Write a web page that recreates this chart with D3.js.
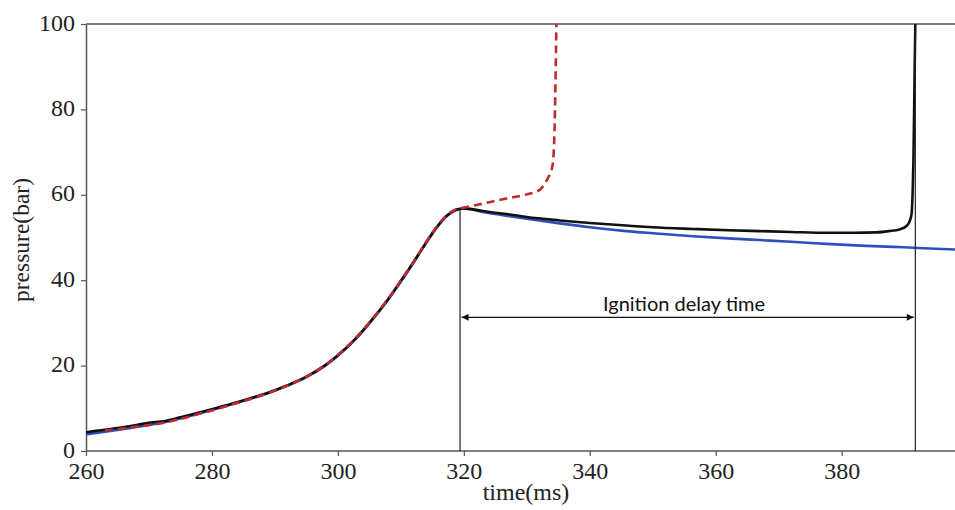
<!DOCTYPE html>
<html><head><meta charset="utf-8">
<script src="https://cdn.jsdelivr.net/npm/d3@7"></script>
<style>html,body{margin:0;padding:0;background:#fff;overflow:hidden}
.serif text, text.serif{font-family:'Liberation Serif','Times New Roman',serif}</style>
</head><body>
<svg id="chart" width="955" height="510"></svg>
<script>
// ---- data ----
const blackTime = [260,262,265,268,270,271,272,275,278,280,283,286,289,292,295,298,300,303,305,308,310,312,313,314,315,316,317,318,319,320,321,323,325,327.3,330,335.2,340,345.8,350,356.4,362,367,372,377.6,382,385.5,387.5,389.2,390.3,390.8,391.1,391.3,391.4,391.6,391.7];
const blackP    = [4.4,4.8,5.4,6.1,6.6,6.8,6.9,7.9,9.0,9.8,11.0,12.3,13.7,15.4,17.4,20.1,22.4,26.6,30.0,35.6,39.8,44.2,46.5,48.8,51.0,53.0,54.7,55.9,56.6,56.8,56.7,56.2,55.8,55.4,54.8,54.0,53.4,52.8,52.4,52.0,51.7,51.5,51.3,51.1,51.1,51.2,51.5,51.9,52.7,53.8,55.5,62,68,90,100];

const blueTime = [260,262,265,268,270,272,275,278,280,283,286,289,292,295,298,300,303,305,308,310,312,313,314,315,316,317,318,319,320,321,323,325,327.3,330,335.2,340,345.8,350,356.4,362,367,372,377.6,383,388.2,393,398];
const blueP    = [3.9,4.3,4.9,5.6,6.1,6.6,7.6,8.8,9.6,10.9,12.2,13.6,15.3,17.3,20.0,22.3,26.5,29.9,35.5,39.7,44.1,46.4,48.7,50.9,52.9,54.6,55.8,56.5,56.8,56.6,56.0,55.5,55.0,54.4,53.3,52.4,51.5,51.0,50.3,49.8,49.4,49.0,48.5,48.1,47.8,47.5,47.2];

const redTime = [263,265,268,270,272,275,278,280,283,286,289,292,295,298,300,303,305,308,310,312,313,314,315,316,317,318,319,320,322,324.7,327,330,332.1,333.2,333.7,334.1,334.4,334.7];
const redP    = [4.8,5.1,5.7,6.1,6.5,7.5,8.7,9.5,10.8,12.1,13.6,15.3,17.4,20.1,22.5,26.7,30.1,35.7,39.9,44.3,46.6,48.9,51.1,53.1,54.8,56.0,56.7,57.0,57.6,58.5,59.2,60.1,61.2,63.5,65.0,67.0,75,100];

const xTicks = [260,280,300,320,340,360,380];
const yTicks = [0,20,40,60,80,100];
const xLabel = "time(ms)";
const yLabel = "pressure(bar)";
const annotation = "Ignition delay time";
const ignStart = 319.4, ignStartP = 56.9, ignEnd = 391.7, arrowP = 31.3;

// ---- chart ----
const svg = d3.select("#chart");
const x = d3.scaleLinear().domain([260, 398]).range([86, 955]);
const y = d3.scaleLinear().domain([0, 100]).range([451, 24]);
const axisColor = "#555";

// top frame line
svg.append("line").attr("x1", x(260)).attr("x2", 955).attr("y1", y(100)).attr("y2", y(100))
  .attr("stroke", axisColor).attr("stroke-width", 1.5);

// axes
const xAxis = svg.append("g").attr("class", "serif").attr("transform", `translate(0,${y(0)})`)
  .call(d3.axisBottom(x).tickValues(xTicks).tickSize(5).tickSizeOuter(0).tickPadding(6).tickFormat(d3.format("d")));
const yAxis = svg.append("g").attr("class", "serif").attr("transform", `translate(${x(260)},0)`)
  .call(d3.axisLeft(y).tickValues(yTicks).tickSize(5).tickSizeOuter(0).tickPadding(6));
[xAxis, yAxis].forEach(ax => {
  ax.attr("font-family", null);
  ax.select(".domain").attr("stroke", axisColor).attr("stroke-width", 1.5);
  ax.selectAll(".tick line").attr("stroke", axisColor).attr("stroke-width", 1.2);
  ax.selectAll("text").attr("font-size", 24).attr("fill", "#222");
});
yAxis.selectAll("text").attr("dy", "0.25em");
xAxis.select(".domain").attr("d", `M${x(260)},0H955`);

svg.append("text").attr("class", "serif").attr("x", 526).attr("y", 500).attr("text-anchor", "middle")
  .attr("font-size", 24).attr("fill", "#222").text(xLabel);
svg.append("text").attr("class", "serif").attr("transform", `translate(29,240) rotate(-90)`).attr("text-anchor", "middle")
  .attr("font-size", 23.5).attr("fill", "#222").text(yLabel);

// lines
const line = d3.line().x(d => x(d[0])).y(d => y(d[1])).curve(d3.curveMonotoneX);
const zip = (a, b) => a.map((t, i) => [t, b[i]]);

svg.append("clipPath").attr("id", "plot").append("rect")
  .attr("x", x(260)).attr("y", y(100)).attr("width", 955 - x(260)).attr("height", y(0) - y(100));

const g = svg.append("g").attr("clip-path", "url(#plot)");
g.append("path").datum(zip(blueTime, blueP)).attr("d", line)
  .attr("fill", "none").attr("stroke", "#2f4fbf").attr("stroke-width", 2.6);
g.append("path").datum(zip(blackTime, blackP)).attr("d", line)
  .attr("fill", "none").attr("stroke", "#111").attr("stroke-width", 2.6);
g.append("path").datum(zip(redTime, redP)).attr("d", line)
  .attr("fill", "none").attr("stroke", "#bf2a2e").attr("stroke-width", 2.6)
  .attr("stroke-dasharray", "8,5");

// ignition markers
svg.append("line").attr("x1", x(ignStart)).attr("x2", x(ignStart)).attr("y1", y(ignStartP)).attr("y2", y(0))
  .attr("stroke", "#222").attr("stroke-width", 1.2);
svg.append("line").attr("x1", x(ignEnd)).attr("x2", x(ignEnd)).attr("y1", y(100)).attr("y2", y(0))
  .attr("stroke", "#222").attr("stroke-width", 1.2);

const defs = svg.append("defs");
defs.append("marker").attr("id", "arrE").attr("viewBox", "0 0 10 10").attr("refX", 10).attr("refY", 5)
  .attr("markerWidth", 9).attr("markerHeight", 7).attr("markerUnits", "userSpaceOnUse").attr("orient", "auto")
  .append("path").attr("d", "M0,0L10,5L0,10Z").attr("fill", "#111");
defs.append("marker").attr("id", "arrS").attr("viewBox", "0 0 10 10").attr("refX", 0).attr("refY", 5)
  .attr("markerWidth", 9).attr("markerHeight", 7).attr("markerUnits", "userSpaceOnUse").attr("orient", "auto")
  .append("path").attr("d", "M10,0L0,5L10,10Z").attr("fill", "#111");

svg.append("line").attr("x1", x(ignStart) + 1.5).attr("x2", x(ignEnd) - 1.5).attr("y1", y(arrowP)).attr("y2", y(arrowP))
  .attr("stroke", "#111").attr("stroke-width", 1.2)
  .attr("marker-start", "url(#arrS)").attr("marker-end", "url(#arrE)");

svg.append("text").attr("x", 684).attr("y", 311).attr("text-anchor", "middle")
  .attr("font-family", "Lato, 'Open Sans', sans-serif").attr("font-size", 20).attr("fill", "#111").text(annotation);
</script>
</body></html>
